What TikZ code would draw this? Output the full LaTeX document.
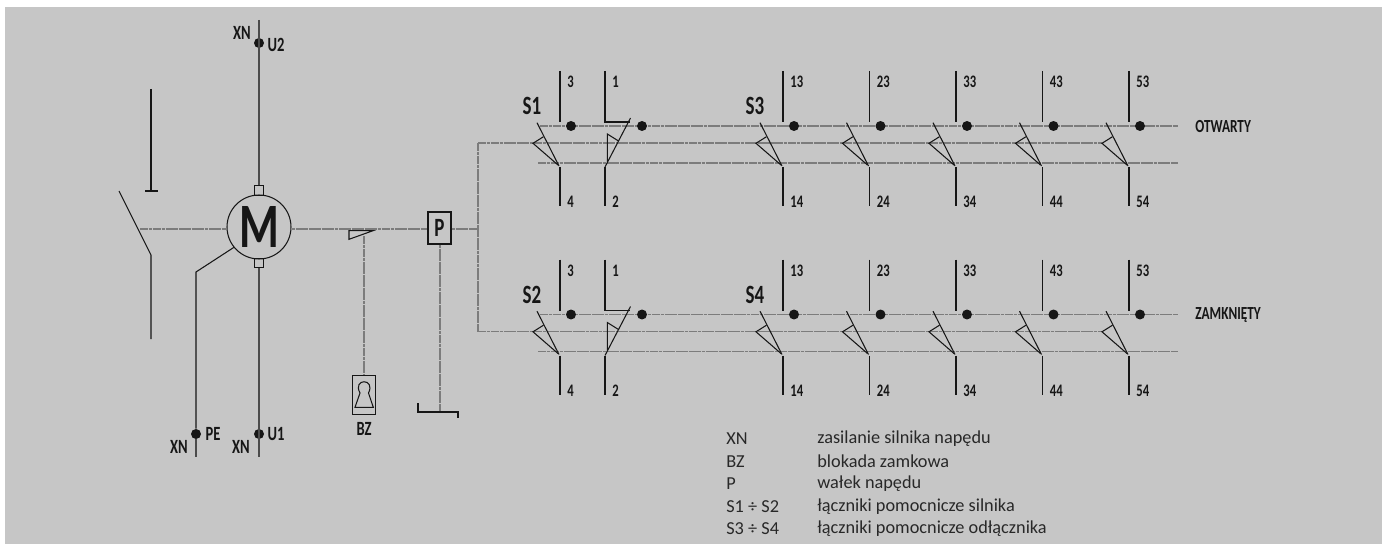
\documentclass[tikz,border=0pt]{standalone}
\usepackage{fontspec}
\usetikzlibrary{positioning}
\setmainfont{Carlito}
\newfontfamily\condfont[FakeStretch=0.72]{Carlito}
\definecolor{bggray}{HTML}{C6C6C6}
\definecolor{ink}{HTML}{161616}
\definecolor{shaftgray}{HTML}{7C7C7C}
\tikzset{
	wire/.style={draw=ink, line width=0.6pt},
	heavy/.style={draw=ink!70!bggray, line width=0.9pt},
	shaft/.style={draw=shaftgray, line width=0.7pt, dash pattern=on 2.2pt off 0.25pt},
	term/.style={circle, fill=ink, inner sep=0pt, minimum size=0.2cm},
	num/.style={font=\condfont\fontsize{10}{10}\selectfont\bfseries, text=ink, inner sep=0pt, anchor=west},
	tag/.style={font=\condfont\fontsize{11.5}{11.5}\selectfont\bfseries, text=ink, inner sep=0pt},
	swname/.style={font=\condfont\fontsize{15}{15}\selectfont\bfseries, text=ink, inner sep=0pt},
	statelabel/.style={font=\condfont\fontsize{10.5}{10.5}\selectfont\bfseries, text=ink, inner sep=0pt, anchor=west},
	legendtext/.style={font=\fontsize{10.4}{10.4}\selectfont, text=ink!90!bggray, inner sep=0pt, anchor=west},
	capbox/.style={draw=ink, line width=0.5pt, inner sep=0pt, minimum width=0.19cm, minimum height=0.19cm}
}
\begin{document}
\begin{tikzpicture}[x=0.02cm, y=-0.02cm]
	\path[use as bounding box, fill=white] (0,0) rectangle (1387,544);
	\fill[bggray] (5,7) rectangle (1382,544);

	\node[draw=ink, line width=0.6pt, circle, inner sep=0pt, minimum size=1.28cm, font=\condfont\fontsize{36}{36}\selectfont\bfseries, text=ink] (motor) at (259,227) {M};
	\node[capbox] (capup) at (259,190.5) {};
	\node[capbox] (capdown) at (259,263) {};
	\node[draw=ink, line width=0.6pt, inner sep=0pt, minimum width=0.46cm, minimum height=0.64cm, font=\condfont\fontsize{15}{15}\selectfont\bfseries, text=ink] (pbox) at (439.5,228) {P};
	\node[draw=ink, line width=0.6pt, inner sep=0pt, minimum width=0.468cm, minimum height=0.78cm] (lock) at (364,394.8) {};
	\node[tag, below=0.14cm of lock] (bzlabel) {BZ};

	\coordinate (uptop) at (259,20);
	\coordinate (downend) at (259,457);
	\coordinate (peknee) at (196,272);
	\coordinate (peend) at (196,457);
	\coordinate (hinge) at (140,229);
	\coordinate (bustop) at (478,143);
	\coordinate (busbot) at (478,331.5);
	\coordinate (rodend) at (440,412);
	\coordinate (camdrop) at (364,236);

	\node[term] (termu2) at (259,43) {};
	\node[term] (termu1) at (259,434) {};
	\node[term] (termpe) at (196,434) {};
	\node[tag] (xnu2) at (242,33) {XN};
	\node[tag] (lblu2) at (276,45) {U2};
	\node[tag] (xnu1) at (241,447) {XN};
	\node[tag] (lblu1) at (276,434) {U1};
	\node[tag] (xnpe) at (179,447) {XN};
	\node[tag] (lblpe) at (213,434) {PE};

	\draw[heavy] (uptop) -- (capup.north);
	\draw[heavy] (capdown.south) -- (downend);
	\draw[wire] (motor.219) -- (peknee) -- (termpe.north);
	\draw[heavy] (termpe) -- (peend);

	\draw[wire] (151,89) -- (151,191);
	\draw[wire] (145,191) -- (158,191);
	\draw[wire] (119,191) -- (151,255) -- (151,339);

	\draw[shaft] (hinge) -- (hinge -| motor.west);
	\draw[shaft] (hinge -| motor.east) -- (hinge -| pbox.west);
	\draw[shaft] (hinge -| pbox.east) -- (hinge -| bustop);
	\draw[shaft] (bustop) -- (busbot);

	\draw[wire] (349,230.7) -- (373,230.7) -- (349,239.3) -- cycle;
	\draw[shaft] (camdrop) -- (lock.north);
	\draw[wire] (355,407.3) -- (360,393) .. controls (352,378) and (376,378) .. (368.5,393) -- (373.3,407.3) -- cycle;

	\draw[shaft] (pbox.south -| rodend) -- (rodend);
	\draw[wire] (418,403) -- (418,412) -- (458,412) -- (458,418);

	\foreach \r/\sa/\sb/\st/\dy in {a/S1/S3/OTWARTY/0, b/S2/S4/ZAMKNIĘTY/188.5}
	{
		\begin{scope}[shift={(0,\dy)}]
			\draw[shaft] (540,126) -- (1178,126);
			\draw[shaft] (478,143) -- (1102,143);
			\draw[shaft] (538,163) -- (1178,163);
			\node[swname] (name\sa) at (532,106) {\sa};
			\node[swname] (name\sb) at (755,106) {\sb};
			\node[statelabel] (state\r) at (1195,126.5) {\st};

			\foreach \x/\up/\dn in {560/3/4, 783/13/14, 869.5/23/24, 956/33/34, 1042.5/43/44, 1129/53/54}
			{
				\draw[wire] (\x,71) -- (\x,122);
				\draw[wire] (\x,167) -- (\x,206);
				\draw[wire] (\x-23,122.7) -- (\x-1,166);
				\draw[wire] (\x-16.5,136.7) -- (\x-27,143.3) -- (\x-2,165);
				\node[term] (dot\r\up) at (\x+11,126) {};
				\node[num] (top\r\up) at (\x+7,82) {\up};
				\node[num] (bot\r\dn) at (\x+7,202) {\dn};
			}

			\draw[wire] (605,71) -- (605,122) -- (630,122);
			\draw[wire] (605,167) -- (605,206);
			\draw[wire] (630.5,118) -- (605,167);
			\draw[wire] (618.5,141) -- (607.3,134) -- (607.3,162);
			\node[term] (dot\r1) at (642,126) {};
			\node[num] (top\r1) at (612,82) {1};
			\node[num] (bot\r2) at (612,202) {2};
		\end{scope}
	}

	\foreach \n/\k/\d/\y in {1/XN/zasilanie silnika napędu/439, 2/BZ/blokada zamkowa/461.7, 3/P/wałek napędu/483.7, 4/S1 ÷ S2/łączniki pomocnicze silnika/506.7, 5/S3 ÷ S4/łączniki pomocnicze odłącznika/529}
	{
		\node[legendtext] (key\n) at (726,\y) {\k};
		\node[legendtext] (text\n) at (817,\y) {\d};
	}
\end{tikzpicture}
\end{document}
